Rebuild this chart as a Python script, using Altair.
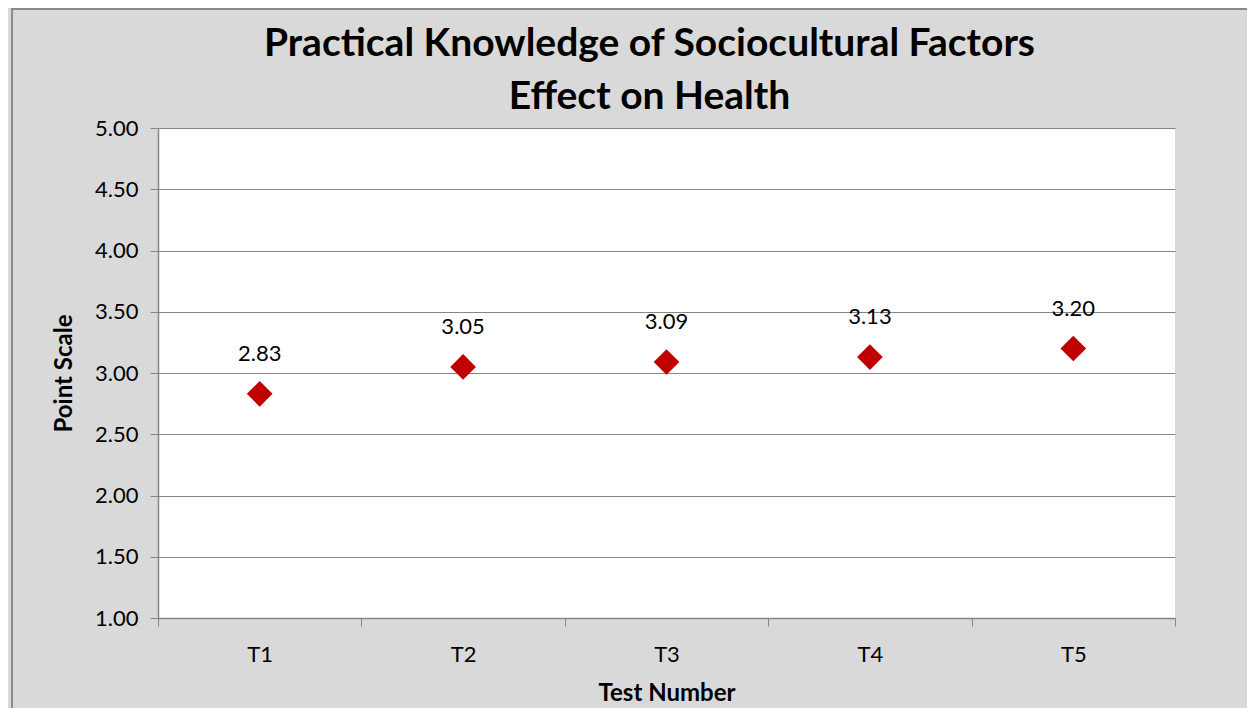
import altair as alt
import pandas as pd

tests = ["T1", "T2", "T3", "T4", "T5"]
scores = [2.83, 3.05, 3.09, 3.13, 3.20]
y_ticks = [1.0, 1.5, 2.0, 2.5, 3.0, 3.5, 4.0, 4.5, 5.0]

df = pd.DataFrame({"test": tests, "score": scores})

FONT = "Lato"
GRID = "#868686"

base = alt.Chart(df).encode(
    x=alt.X(
        "test:N",
        sort=tests,
        scale=alt.Scale(paddingInner=0, paddingOuter=0),
        axis=alt.Axis(
            title="Test Number",
            labelAngle=0,
            tickBand="extent",
            ticks=True,
            tickSize=8,
            tickColor=GRID,
            domainColor=GRID,
            domainWidth=1.5,
            labelFontSize=22,
            labelFont=FONT,
            labelColor="#000000",
            labelPadding=18,
            titleFont=FONT,
            titleFontSize=24,
            titleFontWeight="bold",
            titleColor="#000000",
            titlePadding=16,
            grid=False,
        ),
    ),
    y=alt.Y(
        "score:Q",
        scale=alt.Scale(domain=[1, 5], nice=False, zero=False),
        axis=alt.Axis(
            title="Point Scale",
            values=y_ticks,
            format=".2f",
            tickSize=8,
            tickColor=GRID,
            domainColor=GRID,
            domainWidth=1.5,
            gridColor=GRID,
            gridWidth=1.2,
            labelFontSize=22,
            labelFont=FONT,
            labelColor="#000000",
            labelPadding=12,
            titleFont=FONT,
            titleFontSize=24,
            titleFontWeight="bold",
            titleColor="#000000",
            titlePadding=18,
        ),
    ),
)

points = base.mark_point(shape="diamond", filled=True, size=660, color="#c00000", opacity=1)
labels = base.mark_text(dy=-40, fontSize=22, font=FONT, color="#000000").encode(
    text=alt.Text("score:Q", format=".2f")
)

border_left = alt.Chart(df).mark_rule(color="#8a8a8a", strokeWidth=2).encode(
    x=alt.value(-146), y=alt.value(-120), y2=alt.value(600)
)
border_top = alt.Chart(df).mark_rule(color="#8a8a8a", strokeWidth=2).encode(
    x=alt.value(-146), x2=alt.value(1100), y=alt.value(-119)
)

chart = (
    alt.layer(border_left, border_top, points, labels)
    .properties(
        width=1017,
        height=490,
        padding={"left": 150, "top": 120, "right": 72, "bottom": 90},
        autosize=alt.AutoSizeParams(type="none"),
        background="#d9d9d9",
        title=alt.TitleParams(
            text=["Practical Knowledge of Sociocultural Factors", "Effect on Health"],
            font=FONT,
            fontSize=39,
            fontWeight="bold",
            color="#000000",
            anchor="middle",
            frame="group",
            dx=-17,
            offset=-110,
            lineHeight=53,
        ),
    )
    .configure_view(fill="#ffffff", stroke=None)
)

chart.save("out.html", embed_options={"renderer": "svg", "actions": False})
